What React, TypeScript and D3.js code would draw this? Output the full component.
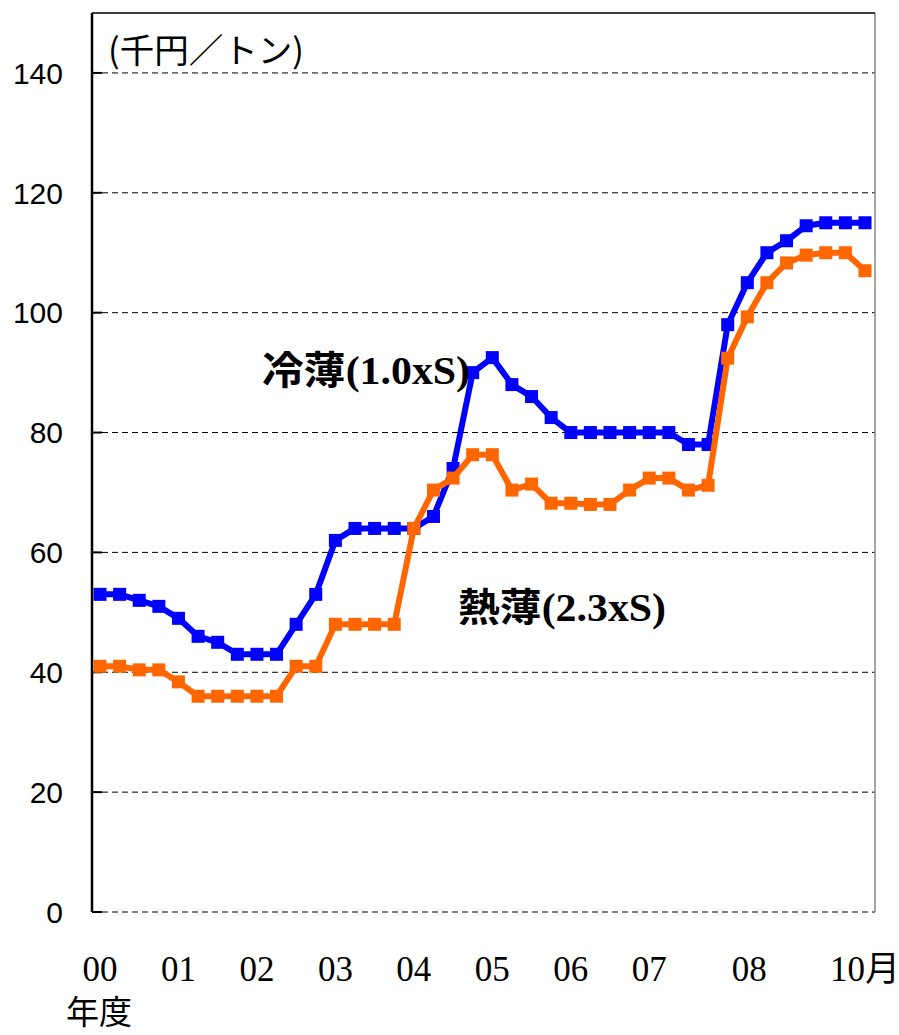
import React from "react";
import * as d3 from "d3";

const blueValues = [53, 53, 52, 51, 49, 46, 45, 43, 43, 43, 48, 53, 62, 64, 64, 64, 64, 66, 74, 90, 92.5, 88, 86, 82.5, 80, 80, 80, 80, 80, 80, 78, 78, 98, 105, 110, 112, 114.5, 115, 115, 115];
const orangeValues = [41, 41, 40.4, 40.4, 38.4, 36, 36, 36, 36, 36, 41, 41, 48, 48, 48, 48, 64, 70.4, 72.4, 76.3, 76.3, 70.4, 71.4, 68.2, 68.2, 68, 68, 70.4, 72.4, 72.4, 70.4, 71.2, 92.4, 99.3, 105, 108.3, 109.6, 110, 110, 107];
const xTickLabels = ["00", "01", "02", "03", "04", "05", "06", "07", "08", "10月"];
const xTickIndex = [0, 4, 8, 12, 16, 20, 24, 28, 33.1, 39];
const yTicks = [0, 20, 40, 60, 80, 100, 120, 140];

const W = 899;
const H = 1035;
const left = 92;
const right = 875;
const top = 13;
const bottom = 912;

export default function App() {
  const x = d3.scaleLinear().domain([0, 39]).range([100, 865]);
  const y = d3.scaleLinear().domain([0, 150]).range([bottom, top]);
  const line = d3
    .line<number>()
    .x((_, i) => x(i))
    .y((d) => y(d));

  const series = [
    { values: blueValues, color: "#0000FF" },
    { values: orangeValues, color: "#FF6600" },
  ];
  const ms = 13;

  return (
    <svg
      width={W}
      height={H}
      style={{ position: "absolute", left: 0, top: 0, background: "#fff" }}
    >
      {/* grid */}
      {yTicks.map((t) => (
        <line
          key={"g" + t}
          x1={left}
          x2={right}
          y1={y(t)}
          y2={y(t)}
          stroke="#000"
          strokeWidth={1}
          strokeDasharray="6,4"
        />
      ))}
      {/* frame */}
      <line x1={right} x2={right} y1={top} y2={bottom} stroke="#888" strokeWidth={1.5} />
      <line x1={left} x2={right} y1={top} y2={top} stroke="#000" strokeWidth={1.5} />
      <line x1={left} x2={left} y1={top} y2={bottom} stroke="#000" strokeWidth={2.5} />
      {yTicks.map((t) => (
        <line key={"t" + t} x1={left} x2={left + 10} y1={y(t)} y2={y(t)} stroke="#000" strokeWidth={2} />
      ))}
      {/* y tick labels */}
      {yTicks.map((t) => (
        <text
          key={"l" + t}
          x={63}
          y={y(t)}
          dy="0.36em"
          textAnchor="end"
          fontFamily="'Liberation Sans', Arial, sans-serif"
          fontSize={30}
          fill="#000"
        >
          {t}
        </text>
      ))}
      {/* unit */}
      <text
        x={108}
        y={63}
        fontFamily="'Noto Sans CJK JP', sans-serif"
        fontSize={34}
        textLength={196}
        lengthAdjust="spacingAndGlyphs"
        fill="#000"
      >
        (千円／トン)
      </text>
      {/* series */}
      {series.map((s, si) => (
        <g key={"s" + si}>
          <path d={line(s.values) || ""} fill="none" stroke={s.color} strokeWidth={6} strokeLinejoin="round" />
          {s.values.map((v, i) => (
            <rect key={i} x={x(i) - ms / 2} y={y(v) - ms / 2} width={ms} height={ms} fill={s.color} />
          ))}
        </g>
      ))}
      {/* annotations */}
      <text
        x={262}
        y={384}
        fontFamily="'Liberation Serif', 'Noto Sans CJK JP', serif"
        fontWeight="bold"
        fontSize={39}
        textLength={208}
        lengthAdjust="spacingAndGlyphs"
        fill="#000"
      >
        冷薄(1.0xS)
      </text>
      <text
        x={458}
        y={621}
        fontFamily="'Liberation Serif', 'Noto Sans CJK JP', serif"
        fontWeight="bold"
        fontSize={39}
        textLength={208}
        lengthAdjust="spacingAndGlyphs"
        fill="#000"
      >
        熱薄(2.3xS)
      </text>
      {/* x labels */}
      {xTickLabels.map((l, i) => (
        <text
          key={"x" + l}
          x={x(xTickIndex[i])}
          y={981}
          textAnchor="middle"
          fontFamily="'Liberation Serif', 'Noto Sans CJK JP', serif"
          fontSize={35}
          fill="#000"
        >
          {l}
        </text>
      ))}
      <text
        x={66}
        y={1024}
        fontFamily="'Noto Sans CJK JP', serif"
        fontSize={33}
        fill="#000"
      >
        年度
      </text>
    </svg>
  );
}
